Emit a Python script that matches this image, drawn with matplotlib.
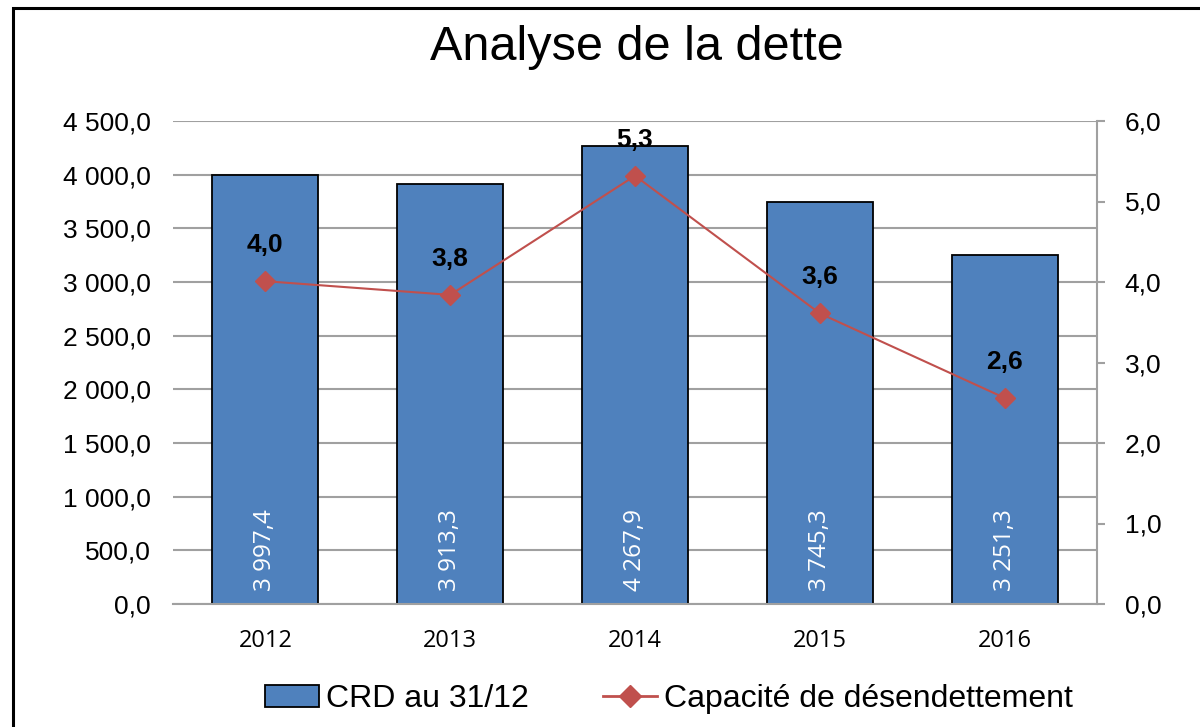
import matplotlib
matplotlib.use("Agg")
import matplotlib.pyplot as plt
from matplotlib.patches import Rectangle
from matplotlib.lines import Line2D
import numpy as np

years = ["2012", "2013", "2014", "2015", "2016"]
crd = [3997.4, 3913.3, 4267.9, 3745.3, 3251.3]
capacite = [4.01, 3.84, 5.32, 3.61, 2.56]
left_ticks = [0, 500, 1000, 1500, 2000, 2500, 3000, 3500, 4000, 4500]
right_ticks = [0, 1, 2, 3, 4, 5, 6]

def fr(v, dec=1):
    s = f"{v:,.{dec}f}"
    return s.replace(",", " ").replace(".", ",")

BAR = "#4F81BD"
LINE = "#C0504D"
GRID = "#A0A0A0"

fig = plt.figure(figsize=(12, 7.27), dpi=100)
fig.patches.append(Rectangle((13/1200, -0.01), 1.0, 1 - 7.5/727 + 0.01,
                             transform=fig.transFigure, fill=False, edgecolor="black", linewidth=2.2))

ax = fig.add_axes([173/1200, 1 - 604/727, (1097-173)/1200, (604-121)/727])
x = np.arange(len(years))
ax.bar(x, crd, width=0.574, color=BAR, edgecolor="black", linewidth=1.3, zorder=2)
ax.set_xlim(-0.5, len(years) - 0.5)
ax.set_ylim(0, 4500)
ax.set_yticks(left_ticks)
ax.set_yticklabels([fr(v) for v in left_ticks], fontsize=19, family="Liberation Sans")
ax.set_xticks(x)
ax.set_xticklabels(years, fontsize=17, family="Open Sans")
ax.tick_params(axis="x", length=0, pad=18)
ax.tick_params(axis="y", length=0, pad=16)
ax.yaxis.grid(True, color=GRID, linewidth=1.5, zorder=0)
ax.set_axisbelow(True)
for s in ["left", "top", "right"]:
    ax.spines[s].set_visible(False)
ax.spines["bottom"].set_color(GRID)
ax.spines["bottom"].set_linewidth(1.5)

for xi, v in zip(x, crd):
    ax.text(xi, 120, fr(v), rotation=90, ha="center", va="bottom", color="white",
            fontsize=17.5, family="Open Sans", zorder=4)

ax2 = ax.twinx()
ax2.plot(x, capacite, color=LINE, linewidth=1.5, marker="D", markersize=10,
         markerfacecolor=LINE, markeredgecolor=LINE, zorder=5)
ax2.set_ylim(0, 6)
ax2.set_yticks(right_ticks)
ax2.set_yticklabels([fr(v) for v in right_ticks], fontsize=19, family="Liberation Sans")
ax2.tick_params(axis="y", length=6, width=1.5, color=GRID, pad=14)
for s in ["left", "top", "bottom"]:
    ax2.spines[s].set_visible(False)
ax2.spines["right"].set_color(GRID)
ax2.spines["right"].set_linewidth(1.5)
for xi, v in zip(x, capacite):
    ax2.text(xi, v + 0.45, fr(v), ha="center", va="center", fontsize=19,
             fontweight="bold", family="Liberation Sans", zorder=6)

fig.text(637/1200, 1 - 48/727, "Analyse de la dette", ha="center", va="center",
         fontsize=35, family="Liberation Sans")

handles = [Rectangle((0, 0), 1, 1, facecolor=BAR, edgecolor="black", linewidth=1.3),
           Line2D([], [], color=LINE, linewidth=2, marker="D", markersize=11,
                  markerfacecolor=LINE, markeredgecolor=LINE)]
fig.legend(handles, ["CRD au 31/12", "Capacité de désendettement"],
           loc="center", bbox_to_anchor=(669/1200, 1 - 699/727), ncol=2, frameon=False,
           prop={"family": "Liberation Sans", "size": 23}, handlelength=1.7,
           handletextpad=0.22, columnspacing=2.3)

fig.savefig("out.png", dpi=100)
